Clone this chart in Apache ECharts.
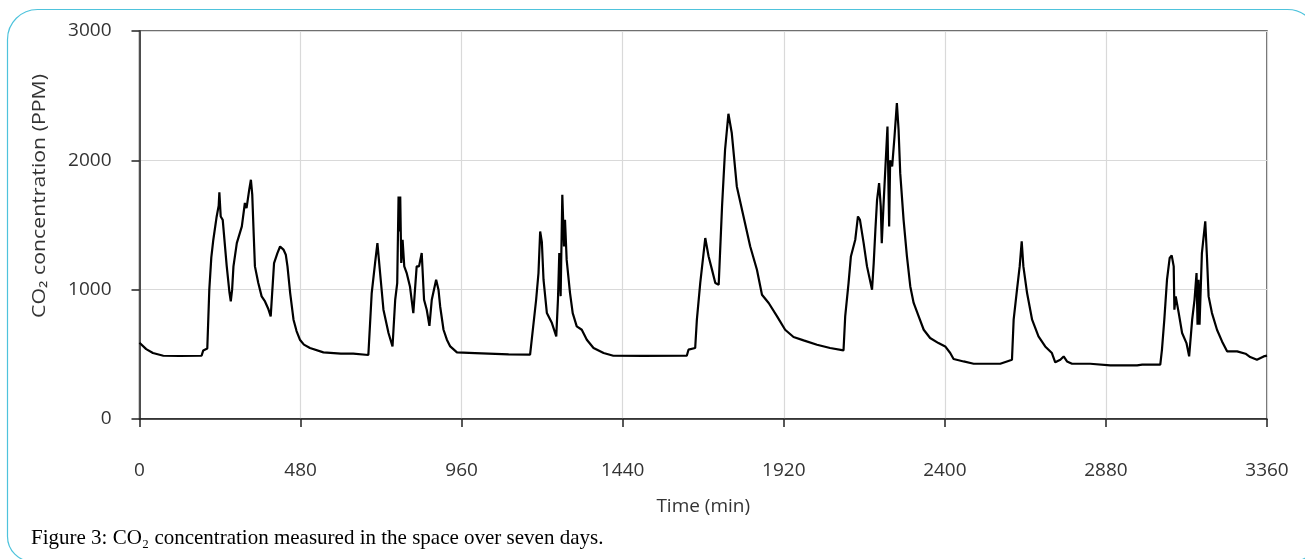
<!DOCTYPE html>
<html>
<head>
<meta charset="utf-8">
<script src="https://cdn.jsdelivr.net/npm/echarts@6/dist/echarts.min.js"></script>
<style>
html,body{margin:0;padding:0;background:#fff;}
#chart{width:1305px;height:559px;}
</style>
</head>
<body>
<div id="chart"></div>
<script>
// Time (min)
var timeMin = [0,20,40,71,120,185,190,202,208,214,220,230,236,238,242,248,260,268,272,276,280,290,305,314,319,327,332,336,340,344,354,364,374,384,391,395,401,411,419,429,436,441,449,459,468,478,490,508,548,600,637,640,682,692,702,709,717,727,742,754,762,768,772,775,777,780,784,789,796,806,816,821,826,833,841,848,856,864,871,884,891,896,906,916,926,946,1000,1100,1164,1167,1182,1189,1194,1199,1204,1214,1229,1242,1247,1251,1255,1260,1265,1268,1273,1283,1291,1303,1318,1333,1353,1383,1412,1500,1631,1636,1656,1661,1671,1686,1696,1706,1716,1726,1736,1745,1755,1765,1780,1800,1820,1840,1855,1875,1900,1924,1949,1979,2019,2058,2098,2103,2113,2120,2133,2141,2147,2158,2168,2183,2188,2193,2198,2204,2209,2212,2217,2223,2229,2234,2237,2243,2250,2257,2262,2267,2277,2287,2297,2307,2322,2337,2356,2381,2401,2416,2426,2456,2486,2565,2585,2600,2605,2615,2623,2629,2634,2645,2660,2679,2699,2719,2729,2744,2754,2764,2779,2833,2893,2973,2988,3042,3047,3054,3062,3070,3076,3082,3084,3088,3097,3107,3120,3128,3137,3144,3150,3153,3156,3159,3166,3176,3181,3186,3196,3211,3226,3241,3271,3296,3310,3330,3350,3360];
// CO2 concentration (PPM)
var co2Ppm = [590,540,510,489,487,489,530,545,1000,1250,1386,1566,1650,1752,1566,1540,1180,980,909,1000,1180,1360,1489,1670,1630,1773,1850,1735,1450,1180,1051,948,909,850,793,790,1206,1283,1334,1310,1270,1180,974,768,680,613,575,549,515,505,505,495,495,974,1206,1360,1129,845,665,561,922,1050,1720,1450,1720,1206,1386,1180,1130,1025,819,1000,1180,1180,1283,922,845,720,922,1077,1000,870,690,613,561,515,510,500,497,500,922,1129,1450,1370,1077,819,742,639,922,1283,950,1734,1335,1540,1230,974,819,716,690,613,549,510,489,488,489,536,549,768,1051,1399,1257,1155,1051,1038,1643,2082,2360,2211,1798,1566,1334,1154,961,897,793,690,634,608,574,549,530,793,1051,1257,1386,1566,1540,1360,1180,1000,1205,1463,1695,1824,1644,1360,1644,1953,2262,1489,2000,1953,2184,2442,2240,1901,1540,1257,1025,897,793,690,626,587,561,510,464,445,427,427,445,458,768,1000,1180,1373,1180,974,768,639,561,510,438,458,484,445,427,427,415,415,420,420,536,768,1077,1245,1265,1180,845,948,819,665,587,484,768,922,1129,729,1077,729,1283,1528,1257,948,819,690,600,523,523,505,479,458,484,490];
var xTicks = [0,480,960,1440,1920,2400,2880,3360];
var yTicks = [0,1000,2000,3000];
var xTitle = 'Time (min)';
var yTitle = 'CO\u2082 concentration (PPM)';
var caption = 'Figure 3: CO\u2082 concentration measured in the space over seven days.';

var seriesData = timeMin.map(function(t,i){return [t, co2Ppm[i]];});
var sansFont = "'Open Sans','Noto Sans','DejaVu Sans',sans-serif";
var plain = function(v){return String(v);};

var chart = echarts.init(document.getElementById('chart'), null, {renderer:'canvas'});
chart.setOption({
  animation:false,
  backgroundColor:'#fff',
  grid:{left:139.5,right:38,top:31,bottom:140,show:true,borderColor:'#404040',borderWidth:1.5,containLabel:false},
  xAxis:{
    type:'value',min:xTicks[0],max:xTicks[xTicks.length-1],interval:xTicks[1]-xTicks[0],
    name:xTitle,nameLocation:'middle',nameGap:78,
    nameTextStyle:{fontFamily:sansFont,fontSize:19,color:'#333'},
    axisLine:{show:true,lineStyle:{color:'#222',width:1.5}},
    axisTick:{show:true,length:8,lineStyle:{color:'#222',width:1.5}},
    axisLabel:{margin:42,fontFamily:sansFont,fontSize:19,color:'#333',formatter:plain},
    splitLine:{show:true,lineStyle:{color:'#d9d9d9',width:1.2}}
  },
  yAxis:{
    type:'value',min:yTicks[0],max:yTicks[yTicks.length-1],interval:yTicks[1]-yTicks[0],
    axisLine:{show:true,lineStyle:{color:'#222',width:1.5}},
    axisTick:{show:true,length:8,lineStyle:{color:'#222',width:1.5}},
    axisLabel:{margin:28,fontFamily:sansFont,fontSize:19,color:'#333',formatter:plain},
    splitLine:{show:true,lineStyle:{color:'#d9d9d9',width:1.2}}
  },
  series:[{
    type:'line',data:seriesData,symbol:'none',
    lineStyle:{color:'#000',width:2.2},
    z:3
  }],
  graphic:[
    {type:'rect',silent:true,z:-1,
     shape:{x:7.5,y:9.5,width:1310,height:552,r:[30,30,25,25]},
     style:{fill:'none',stroke:'#4ec3dc',lineWidth:1.2}},
    {type:'text',silent:true,x:40,y:196,rotation:Math.PI/2,scaleX:1.12,
     style:{text:yTitle,font:"19px "+sansFont,fill:'#333',align:'center',verticalAlign:'middle'}},
    {type:'text',left:31,top:528,silent:true,
     style:{text:caption,font:"21px 'Liberation Serif','DejaVu Serif',serif",fill:'#000'}}
  ]
});
</script>
</body>
</html>
